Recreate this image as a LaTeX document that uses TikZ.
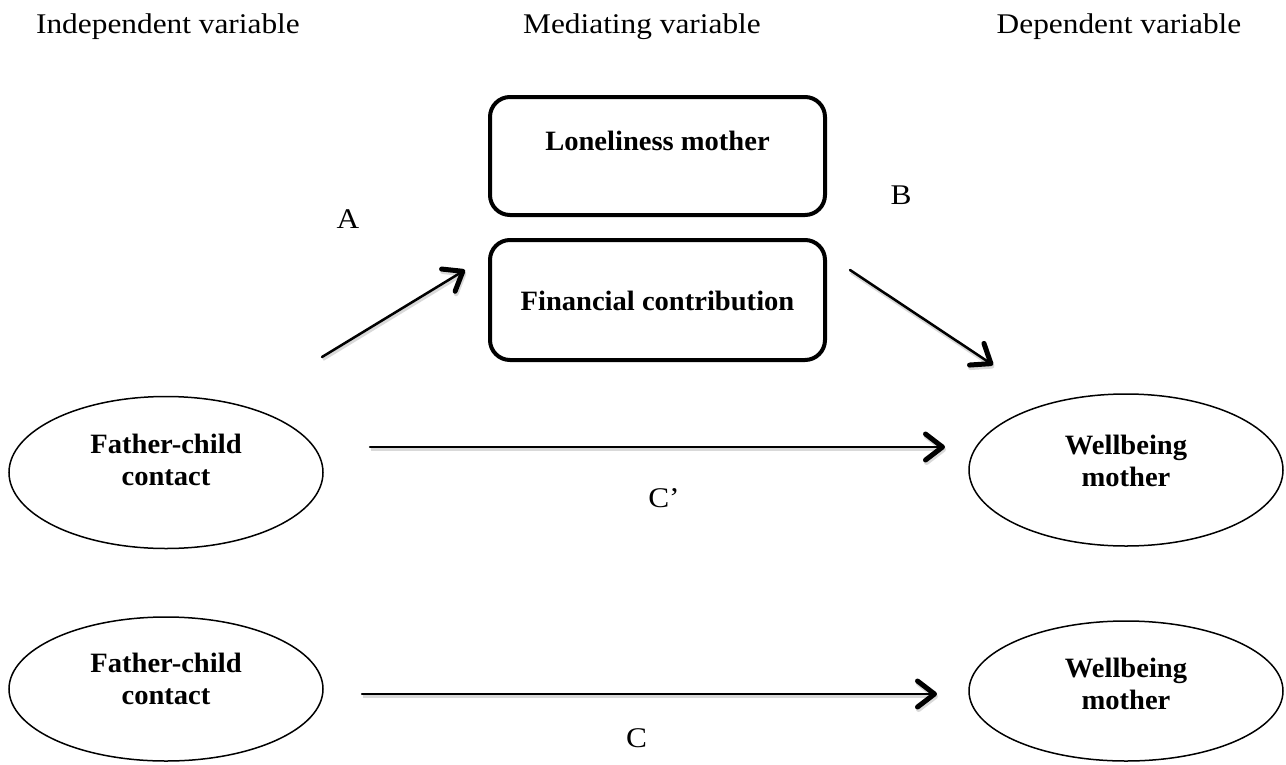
\documentclass[tikz,border=0pt]{standalone}
\usepackage{fontspec}
\setmainfont{Liberation Serif}[FakeStretch=1.1]
\newfontfamily\lblfont{Liberation Serif}[FakeStretch=1.02]
\usetikzlibrary{arrows.meta,shapes.geometric}
\begin{document}
\begin{tikzpicture}[x=1pt,y=-1pt,
  hdr/.style={font=\fontsize{28.5}{34}\selectfont, anchor=base, inner sep=0pt},
  lbl/.style={font=\lblfont\bfseries\fontsize{28}{32}\selectfont, align=center, inner sep=0pt},
  mbox/.style={draw, line width=4pt, rounded corners=20pt, minimum width=335pt, inner sep=0pt},
  oval/.style={draw, ellipse, line width=1.5pt, minimum width=314pt, minimum height=152pt, inner sep=0pt},
  arr/.style={line width=2.5pt, line cap=round,
    -{Straight Barb[length=17pt,width=26pt,line width=5pt,round]},
    preaction={draw=black!15, line width=3pt, transform canvas={xshift=1pt,yshift=-2.5pt}}}
]
\useasboundingbox (0,0) rectangle (1286,764);
% headers
\node[hdr] (hind) at (168,33) {Independent variable};
\node[hdr] (hmed) at (642,33) {Mediating variable};
\node[hdr] (hdep) at (1119,33) {Dependent variable};
% mediator boxes
\node[mbox, minimum height=118pt] (lone) at (657.5,156) {};
\node[lbl, anchor=base] (lonet) at (657.5,150) {Loneliness mother};
\node[mbox, minimum height=120pt] (fin) at (657.5,300) {};
\node[lbl, anchor=base] (fint) at (657.5,310) {Financial contribution};
% ellipses
\node[oval] (fc1) at (166,472.5) {};
\node[lbl] (fc1t) at (166,460.4) {Father-child\\contact};
\node[oval] (wb1) at (1126,470) {};
\node[lbl] (wb1t) at (1126,461.4) {Wellbeing\\mother};
\node[oval, minimum height=144pt] (fc2) at (166,689) {};
\node[lbl] (fc2t) at (166,679.4) {Father-child\\contact};
\node[oval, minimum height=140pt] (wb2) at (1126,691) {};
\node[lbl] (wb2t) at (1126,684.4) {Wellbeing\\mother};
% connector ends
\coordinate (a1) at (322,357);
\coordinate (a2) at (465,270);
\coordinate (b1) at (850,270);
\coordinate (b2) at (993,365);
\coordinate (cp1) at (370,447);
\coordinate (cp2) at (945,447);
\coordinate (c1) at (362,694);
\coordinate (c2) at (937,694);
\draw[arr] (a1) -- (a2);
\draw[arr] (b1) -- (b2);
\draw[arr] (cp1) -- (cp2);
\draw[arr] (c1) -- (c2);
% path labels
\node[hdr] (la) at (348,228) {A};
\node[hdr] (lb) at (901,204) {B};
\node[hdr] (lcp) at (664,507) {C’};
\node[hdr] (lc) at (636.5,747) {C};
\end{tikzpicture}
\end{document}
